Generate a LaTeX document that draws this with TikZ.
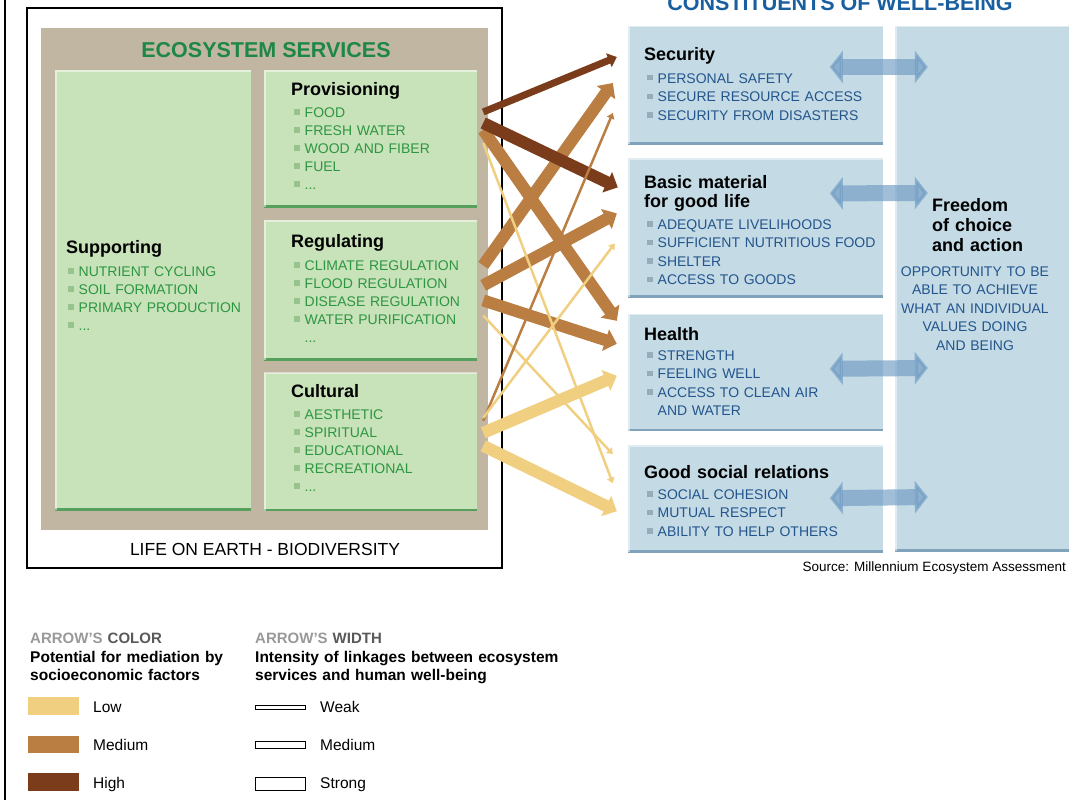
\documentclass[tikz,border=0pt]{standalone}
\usepackage{fontspec}
\setmainfont{Liberation Sans}
\usetikzlibrary{arrows.meta,positioning,calc}

\definecolor{earthtan}{RGB}{192,182,162}
\definecolor{svcgreen}{RGB}{200,226,186}
\definecolor{svcedge}{RGB}{84,160,92}
\definecolor{titlegreen}{RGB}{30,135,70}
\definecolor{itemgreen}{RGB}{45,150,65}
\definecolor{bulgreen}{RGB}{150,196,140}
\definecolor{wbblue}{RGB}{196,218,229}
\definecolor{wbedge}{RGB}{128,162,186}
\definecolor{itemblue}{RGB}{35,85,140}
\definecolor{titleblue}{RGB}{25,95,160}
\definecolor{bulblue}{RGB}{150,172,186}
\definecolor{dblblue}{RGB}{110,155,195}
\definecolor{lowpot}{RGB}{240,207,128}
\definecolor{medpot}{RGB}{186,126,66}
\definecolor{highpot}{RGB}{122,60,26}

\newcommand{\gb}{\textcolor{bulgreen}{\rule[2.5pt]{5.5pt}{5.5pt}}\hspace{5pt}}
\newcommand{\bb}{\textcolor{bulblue}{\rule[2.5pt]{5.5pt}{5.5pt}}\hspace{5pt}}
\newcommand{\nb}{\hspace{10.5pt}}

\begin{document}
\begin{tikzpicture}[x=1pt, y=-1pt,
  svc/.style={fill=svcgreen, inner sep=0pt, minimum width=213pt,
    path picture={\draw[svcedge, line width=4pt] (path picture bounding box.south west) -- (path picture bounding box.south east);
      \draw[white, opacity=0.5, line width=3pt] (path picture bounding box.south west) -- (path picture bounding box.north west) -- (path picture bounding box.north east);}},
  wb/.style={fill=wbblue, inner sep=0pt, minimum width=255pt,
    path picture={\draw[wbedge, line width=4pt] (path picture bounding box.south west) -- (path picture bounding box.south east);
      \draw[white, opacity=0.5, line width=3pt] (path picture bounding box.south west) -- (path picture bounding box.north west) -- (path picture bounding box.north east);}},
  head/.style={font=\fontsize{18}{20}\selectfont\bfseries, inner sep=0pt, anchor=base west, text width=220pt, align=left},
  gitems/.style={font=\fontsize{14}{18}\selectfont, text=itemgreen, inner sep=0pt, anchor=base west, text width=190pt, align=left},
  bitems/.style={font=\fontsize{14}{18.5}\selectfont, text=itemblue, inner sep=0pt, anchor=base west, text width=230pt, align=left},
  link/.style={-{Triangle[length=4pt 0.65, width=4pt 1.5]}},
  weaklink/.style={link, line width=2.5pt},
  midlink/.style={link, line width=7pt},
  stronglink/.style={link, line width=12pt},
  dbl/.style={draw=dblblue, opacity=0.65, line width=16pt, {Triangle[length=13pt, width=32pt]}-{Triangle[length=13pt, width=32pt]}},
  legtxt/.style={font=\fontsize{15.5}{19}\selectfont, inner sep=0pt, anchor=base west, text width=330pt, align=left}]

\useasboundingbox (0,0) rectangle (1078,800);
\draw[line width=1.5pt] (5,0) -- (5,800);

% ecosystem services
\node[draw, line width=1.5pt, minimum width=475pt, minimum height=560pt, inner sep=0pt] (earth) at (264.5,288) {};
\node[fill=earthtan, minimum width=447pt, minimum height=502pt, inner sep=0pt] (eco) at (264.5,279) {};
\node[svc, minimum width=196pt, minimum height=440pt] (supp) at (153,290) {};
\node[svc, minimum height=137pt] (prov) at (370.5,138.5) {};
\node[svc, minimum height=140pt, below=13pt of prov] (reg) {};
\node[svc, minimum height=138pt, below=12pt of reg] (cult) {};

\node[font=\fontsize{21.5}{24}\selectfont\bfseries, text=titlegreen, anchor=base] (ecot) at (266,57) {ECOSYSTEM SERVICES};
\node[font=\fontsize{17.5}{20}\selectfont, anchor=base] (life) at (265,555) {LIFE ON EARTH - BIODIVERSITY};

\node[head] (supph) at (66,253) {Supporting};
\node[gitems] at (68,276) {\gb NUTRIENT CYCLING\\ \gb SOIL FORMATION\\ \gb PRIMARY PRODUCTION\\ \gb ...};
\node[head] (provh) at (291,95) {Provisioning};
\node[gitems] at (294,117) {\gb FOOD\\ \gb FRESH WATER\\ \gb WOOD AND FIBER\\ \gb FUEL\\ \gb ...};
\node[head] (regh) at (291,247) {Regulating};
\node[gitems] at (294,270) {\gb CLIMATE REGULATION\\ \gb FLOOD REGULATION\\ \gb DISEASE REGULATION\\ \gb WATER PURIFICATION\\ \nb ...};
\node[head] (culth) at (291,397) {Cultural};
\node[gitems] at (294,419) {\gb AESTHETIC\\ \gb SPIRITUAL\\ \gb EDUCATIONAL\\ \gb RECREATIONAL\\ \gb ...};

% constituents of well-being
\node[font=\fontsize{21.5}{24}\selectfont\bfseries, text=titleblue, anchor=base] (wbt) at (840,11) {CONSTITUENTS OF WELL-BEING};
\node[wb, minimum height=118pt] (sec) at (755.5,85) {};
\node[wb, minimum height=139pt, below=14pt of sec] (basic) {};
\node[wb, minimum height=117pt, below=16pt of basic] (health) {};
\node[wb, minimum height=107pt, below=14pt of health] (social) {};
\node[wb, minimum width=174pt, minimum height=525pt] (free) at (982,288.5) {};

\node[head] (sech) at (644,60) {Security};
\node[bitems] at (647,83) {\bb PERSONAL SAFETY\\ \bb SECURE RESOURCE ACCESS\\ \bb SECURITY FROM DISASTERS};
\node[head, font=\fontsize{18}{19}\selectfont\bfseries] (basich) at (644,188) {Basic material\\for good life};
\node[bitems] at (647,229) {\bb ADEQUATE LIVELIHOODS\\ \bb SUFFICIENT NUTRITIOUS FOOD\\ \bb SHELTER\\ \bb ACCESS TO GOODS};
\node[head] (healthh) at (644,340) {Health};
\node[bitems] at (647,360) {\bb STRENGTH\\ \bb FEELING WELL\\ \bb ACCESS TO CLEAN AIR\\ \nb AND WATER};
\node[head] (socialh) at (644,478) {Good social relations};
\node[bitems] at (647,499) {\bb SOCIAL COHESION\\ \bb MUTUAL RESPECT\\ \bb ABILITY TO HELP OTHERS};
\node[head, text width=130pt] (freeh) at (932,211) {Freedom\\of choice\\and action};
\node[font=\fontsize{14}{18.5}\selectfont, text=itemblue, text width=170pt, align=center, anchor=base, inner sep=0pt] (freet) at (975,276) {OPPORTUNITY TO BE\\ABLE TO ACHIEVE\\WHAT AN INDIVIDUAL\\VALUES DOING\\AND BEING};

\draw[dbl] ($(sec.west)+(202,-18)$) -- ($(free.west)+(33,-221.5)$);
\draw[dbl] ($(basic.west)+(202,-34.5)$) -- ($(free.west)+(33,-95.5)$);
\draw[dbl] ($(health.west)+(202,-3.5)$) -- ($(free.west)+(33,79.5)$);
\draw[dbl] ($(social.west)+(202,-0.5)$) -- ($(free.west)+(33,208.5)$);

\node[font=\fontsize{13.5}{16}\selectfont, anchor=base east, inner sep=0pt] (src) at (1066,571) {Source: Millennium Ecosystem Assessment};

% links
\draw[stronglink, lowpot] ($(cult.east)+(6,-9)$) -- ($(health.west)+(-11,3.5)$);
\draw[stronglink, lowpot] ($(cult.east)+(6,4)$) -- ($(social.west)+(-11,12.5)$);
\draw[stronglink, medpot] ($(prov.east)+(6,-8.5)$) -- ($(health.west)+(-11,-51.5)$);
\draw[stronglink, medpot] ($(reg.east)+(6,-25)$) -- ($(sec.west)+(-15,-2)$);
\draw[stronglink, medpot] ($(reg.east)+(6,-5)$) -- ($(basic.west)+(-11,-14.5)$);
\draw[stronglink, medpot] ($(reg.east)+(6,10)$) -- ($(health.west)+(-11,-28.5)$);
\draw[midlink, highpot] ($(prov.east)+(6,-26.5)$) -- ($(sec.west)+(-11,-28)$);
\draw[stronglink, highpot] ($(prov.east)+(6,-15.5)$) -- ($(basic.west)+(-10,-40.5)$);
\draw[weaklink, lowpot] ($(prov.east)+(6,4.5)$) -- ($(social.west)+(-15,-15.5)$);
\draw[weaklink, lowpot] ($(reg.east)+(6,25)$) -- ($(social.west)+(-15,-44.5)$);
\draw[weaklink, medpot] ($(cult.east)+(6,-21)$) -- ($(sec.west)+(-15,28)$);
\draw[weaklink, lowpot] ($(cult.east)+(6,-24)$) -- ($(basic.west)+(-13,15.5)$);

% legend
\node[legtxt, font=\fontsize{15}{18}\selectfont\bfseries] (colt) at (30,643) {\textcolor{black!40}{ARROW'S} \textcolor{black!65}{COLOR}};
\node[legtxt, font=\fontsize{15.5}{18.5}\selectfont\bfseries] (cold) at (30,662) {Potential for mediation by\\socioeconomic factors};
\node[legtxt, font=\fontsize{15}{18}\selectfont\bfseries] (widt) at (255,643) {\textcolor{black!40}{ARROW'S} \textcolor{black!65}{WIDTH}};
\node[legtxt, font=\fontsize{15.5}{18.5}\selectfont\bfseries] (widd) at (255,662) {Intensity of linkages between ecosystem\\services and human well-being};

\node[fill=lowpot, minimum width=51pt, minimum height=18pt, inner sep=0pt] (swlow) at (53.5,706) {};
\node[fill=medpot, minimum width=51pt, minimum height=17pt, inner sep=0pt] (swmed) at (53.5,744.5) {};
\node[fill=highpot, minimum width=51pt, minimum height=18pt, inner sep=0pt] (swhigh) at (53.5,782) {};
\node[legtxt] (llow) at (93,712) {Low};
\node[legtxt] (lmed) at (93,750) {Medium};
\node[legtxt] (lhigh) at (93,788) {High};

\node[draw, fill=white, line width=0.9pt, minimum width=50pt, minimum height=4pt, inner sep=0pt] (wweak) at (280,707) {};
\node[draw, fill=white, line width=0.9pt, minimum width=50pt, minimum height=7pt, inner sep=0pt] (wmid) at (280,745) {};
\node[draw, fill=white, line width=0.9pt, minimum width=50pt, minimum height=13pt, inner sep=0pt] (wstrong) at (280,784) {};
\node[legtxt] (lweak) at (320,712) {Weak};
\node[legtxt] (lwmid) at (320,750) {Medium};
\node[legtxt] (lwstrong) at (320,788) {Strong};
\end{tikzpicture}
\end{document}
